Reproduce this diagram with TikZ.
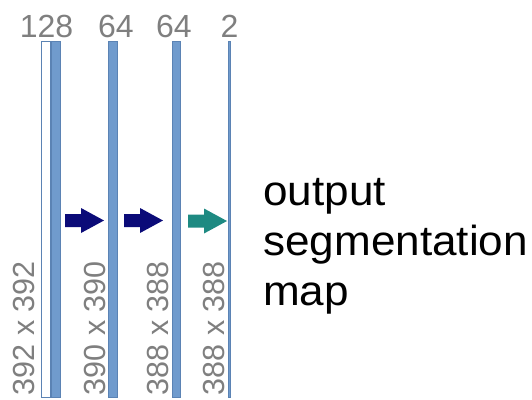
\documentclass[tikz,border=0pt]{standalone}
\usepackage{fontspec}
\setmainfont{Liberation Sans}
\definecolor{barblue}{HTML}{709BCD}
\definecolor{baredge}{HTML}{5B83B4}
\definecolor{labelgray}{HTML}{7F7F7F}
\definecolor{convnavy}{HTML}{0B0B78}
\definecolor{convteal}{HTML}{1E8A82}
\tikzset{
  featbar/.style={draw=baredge, line width=0.6pt, fill=barblue, inner sep=0pt,
    minimum height=356pt, anchor=north west},
  inbar/.style={featbar, fill=white},
  chanlabel/.style={text=labelgray, font=\fontsize{32}{38}\selectfont, inner sep=0pt, anchor=base},
  dimlabel/.style={text=labelgray, font=\fontsize{30.5}{36}\selectfont, inner sep=0pt,
    rotate=90, anchor=east},
  outtext/.style={text=black, font=\fontsize{42}{50}\selectfont, inner sep=0pt,
    anchor=base west, xscale=1.05},
  blockarrow/.pic={
    \fill[pic actions] (0,-6.5) -- (16,-6.5) -- (16,-12.5) -- (39,0)
      -- (16,12.5) -- (16,6.5) -- (0,6.5) -- cycle;
  }
}
\begin{document}
\begin{tikzpicture}[x=1pt, y=-1pt]
  \useasboundingbox (0,0) rectangle (532,399);
  \clip (0,0) rectangle (532,399);

  % feature maps
  \node[inbar, minimum width=9pt] (in) at (41,41) {};
  \node[featbar, minimum width=9pt] (f1) at (50.5,41) {};
  \node[featbar, minimum width=9pt] (f2) at (108,41) {};
  \node[featbar, minimum width=8pt] (f3) at (172,41) {};
  \node[featbar, minimum width=2.2pt] (out) at (227.5,41) {};

  % channel counts
  \node[chanlabel] (c1) at (46.5,37) {128};
  \node[chanlabel] (c2) at (116,37) {64};
  \node[chanlabel] (c3) at (174,37) {64};
  \node[chanlabel] (c4) at (229.5,37) {2};

  % spatial sizes
  \node[dimlabel] (d1) at (24,261) {392 x 392};
  \node[dimlabel] (d2) at (95,261) {390 x 390};
  \node[dimlabel] (d3) at (157.5,261) {388 x 388};
  \node[dimlabel] (d4) at (214,261) {388 x 388};

  % operations between maps
  \pic[convnavy] at (65,220.5) {blockarrow};
  \pic[convnavy] at (124,220.5) {blockarrow};
  \pic[convteal] at (188,221) {blockarrow};

  % caption
  \node[outtext] (t1) at (263,205) {output};
  \node[outtext] (t2) at (263,255) {segmentation};
  \node[outtext] (t3) at (263,305) {map};
\end{tikzpicture}
\end{document}
